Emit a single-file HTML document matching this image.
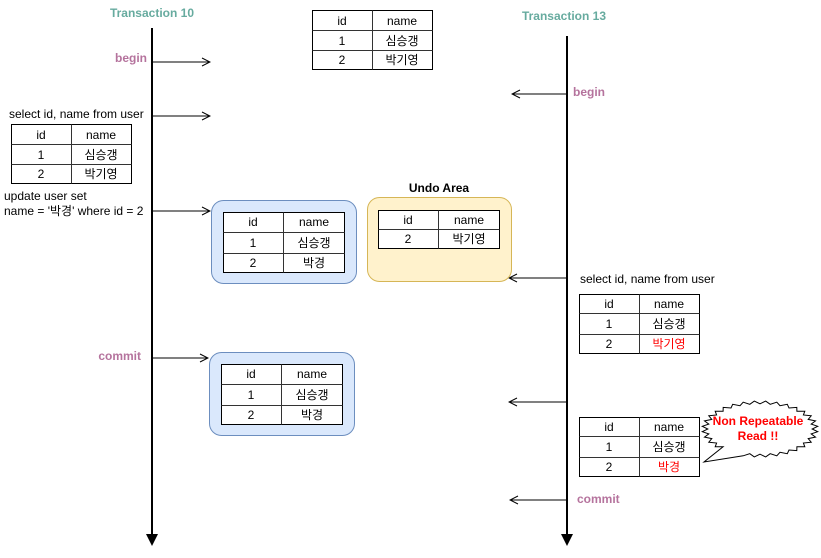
<!DOCTYPE html>
<html><head><meta charset="utf-8"><style>
html,body{margin:0;padding:0;background:#fff;}
svg{display:block;font-family:"Liberation Sans","Noto Sans CJK KR","NanumGothic",sans-serif;}
.t{font-size:12px;fill:#000;text-anchor:middle;}
.l{font-size:12px;fill:#000;}
.tb{fill:#fff;stroke:#000;stroke-width:1;}
.ln{stroke:#333;stroke-width:1;}
</style></head><body>
<svg width="821" height="558" viewBox="0 0 821 558" xmlns="http://www.w3.org/2000/svg">
<defs>
<marker id="oa" markerWidth="10" markerHeight="10" refX="9" refY="5" orient="auto" markerUnits="userSpaceOnUse">
<path d="M1,1 L9,5 L1,9" fill="none" stroke="#000" stroke-width="1"/>
</marker>
</defs>

<!-- titles -->
<text x="152" y="17" font-size="12" font-weight="bold" fill="#67AB9F" text-anchor="middle">Transaction 10</text>
<text x="564" y="20" font-size="12" font-weight="bold" fill="#67AB9F" text-anchor="middle">Transaction 13</text>

<!-- timelines -->
<line x1="152" y1="28" x2="152" y2="536" stroke="#000" stroke-width="2"/>
<path d="M146,534 L158,534 L152,546 Z" fill="#000"/>
<line x1="567" y1="36" x2="567" y2="536" stroke="#000" stroke-width="2"/>
<path d="M561,534 L573,534 L567,546 Z" fill="#000"/>

<!-- left arrows -->
<line x1="152" y1="62" x2="210" y2="62" stroke="#000" marker-end="url(#oa)"/>
<line x1="152" y1="116" x2="210" y2="116" stroke="#000" marker-end="url(#oa)"/>
<line x1="152" y1="211" x2="210" y2="211" stroke="#000" marker-end="url(#oa)"/>
<line x1="152" y1="358" x2="208" y2="358" stroke="#000" marker-end="url(#oa)"/>
<!-- right arrows -->
<line x1="567" y1="94" x2="512" y2="94" stroke="#000" marker-end="url(#oa)"/>
<line x1="567" y1="278" x2="509" y2="278" stroke="#000" marker-end="url(#oa)"/>
<line x1="567" y1="402" x2="509" y2="402" stroke="#000" marker-end="url(#oa)"/>
<line x1="567" y1="500" x2="510" y2="500" stroke="#000" marker-end="url(#oa)"/>

<!-- labels -->
<text x="147" y="62" font-size="12" font-weight="bold" fill="#B5739D" text-anchor="end">begin</text>
<text x="141" y="360" font-size="12" font-weight="bold" fill="#B5739D" text-anchor="end">commit</text>
<text x="573" y="96" font-size="12" font-weight="bold" fill="#B5739D">begin</text>
<text x="577" y="503" font-size="12" font-weight="bold" fill="#B5739D">commit</text>
<text x="9" y="118" class="l">select id, name from user</text>
<text x="4" y="200" class="l">update user set</text>
<text x="4" y="215" class="l">name = '박경' where id = 2</text>
<text x="580" y="283" class="l">select id, name from user</text>
<text x="439" y="192" font-size="12" font-weight="bold" text-anchor="middle">Undo Area</text>

<!-- top table -->
<g>
<rect class="tb" x="312.5" y="10.5" width="120" height="59"/>
<line class="ln" x1="372.5" y1="10.5" x2="372.5" y2="69.5"/>
<line class="ln" x1="312.5" y1="30.5" x2="432.5" y2="30.5"/>
<line class="ln" x1="312.5" y1="50.5" x2="432.5" y2="50.5"/>
<text class="t" x="342" y="25">id</text><text class="t" x="402" y="25">name</text>
<text class="t" x="342" y="45">1</text><text class="t" x="402" y="45">심승갱</text>
<text class="t" x="342" y="64">2</text><text class="t" x="402" y="64">박기영</text>
</g>

<!-- left table -->
<g>
<rect class="tb" x="11.5" y="124.5" width="120" height="59"/>
<line class="ln" x1="71.5" y1="124.5" x2="71.5" y2="183.5"/>
<line class="ln" x1="11.5" y1="144.5" x2="131.5" y2="144.5"/>
<line class="ln" x1="11.5" y1="164.5" x2="131.5" y2="164.5"/>
<text class="t" x="41" y="139">id</text><text class="t" x="101" y="139">name</text>
<text class="t" x="41" y="159">1</text><text class="t" x="101" y="159">심승갱</text>
<text class="t" x="41" y="178">2</text><text class="t" x="101" y="178">박기영</text>
</g>

<!-- blue box 1 -->
<rect x="211.5" y="200.5" width="145" height="83" rx="12" fill="#dae8fc" stroke="#6c8ebf"/>
<g>
<rect class="tb" x="223.5" y="212.5" width="121" height="60"/>
<line class="ln" x1="283.5" y1="212.5" x2="283.5" y2="272.5"/>
<line class="ln" x1="223.5" y1="232.5" x2="344.5" y2="232.5"/>
<line class="ln" x1="223.5" y1="253.5" x2="344.5" y2="253.5"/>
<text class="t" x="253" y="226">id</text><text class="t" x="314" y="226">name</text>
<text class="t" x="253" y="247">1</text><text class="t" x="314" y="247">심승갱</text>
<text class="t" x="253" y="267">2</text><text class="t" x="314" y="267">박경</text>
</g>

<!-- undo box -->
<rect x="367.5" y="197.5" width="144" height="84" rx="12" fill="#fff2cc" stroke="#d6b656"/>
<g>
<rect class="tb" x="378.5" y="210.5" width="121" height="38"/>
<line class="ln" x1="438.5" y1="210.5" x2="438.5" y2="248.5"/>
<line class="ln" x1="378.5" y1="229.5" x2="499.5" y2="229.5"/>
<text class="t" x="408" y="224">id</text><text class="t" x="469" y="224">name</text>
<text class="t" x="408" y="243">2</text><text class="t" x="469" y="243">박기영</text>
</g>

<!-- blue box 2 -->
<rect x="209.5" y="352.5" width="145" height="83" rx="12" fill="#dae8fc" stroke="#6c8ebf"/>
<g>
<rect class="tb" x="221.5" y="364.5" width="121" height="60"/>
<line class="ln" x1="281.5" y1="364.5" x2="281.5" y2="424.5"/>
<line class="ln" x1="221.5" y1="384.5" x2="342.5" y2="384.5"/>
<line class="ln" x1="221.5" y1="405.5" x2="342.5" y2="405.5"/>
<text class="t" x="251" y="378">id</text><text class="t" x="312" y="378">name</text>
<text class="t" x="251" y="399">1</text><text class="t" x="312" y="399">심승갱</text>
<text class="t" x="251" y="419">2</text><text class="t" x="312" y="419">박경</text>
</g>

<!-- right table 1 -->
<g>
<rect class="tb" x="579.5" y="294.5" width="120" height="59"/>
<line class="ln" x1="639.5" y1="294.5" x2="639.5" y2="353.5"/>
<line class="ln" x1="579.5" y1="313.5" x2="699.5" y2="313.5"/>
<line class="ln" x1="579.5" y1="334.5" x2="699.5" y2="334.5"/>
<text class="t" x="609" y="308">id</text><text class="t" x="669" y="308">name</text>
<text class="t" x="609" y="328">1</text><text class="t" x="669" y="328">심승갱</text>
<text class="t" x="609" y="348">2</text><text class="t" x="669" y="348" style="fill:#f00">박기영</text>
</g>

<!-- right table 2 -->
<g>
<rect class="tb" x="579.5" y="417.5" width="120" height="59"/>
<line class="ln" x1="639.5" y1="417.5" x2="639.5" y2="476.5"/>
<line class="ln" x1="579.5" y1="436.5" x2="699.5" y2="436.5"/>
<line class="ln" x1="579.5" y1="457.5" x2="699.5" y2="457.5"/>
<text class="t" x="609" y="431">id</text><text class="t" x="669" y="431">name</text>
<text class="t" x="609" y="451">1</text><text class="t" x="669" y="451">심승갱</text>
<text class="t" x="609" y="471">2</text><text class="t" x="669" y="471" style="fill:#f00">박경</text>
</g>

<!-- callout -->
<polygon id="burst" fill="#fff" stroke="#000" stroke-width="1" points=""/>
<text x="758" y="425" font-size="12" font-weight="bold" fill="#f00" text-anchor="middle">Non Repeatable</text>
<text x="758" y="440" font-size="12" font-weight="bold" fill="#f00" text-anchor="middle">Read !!</text>
</svg>
<script>
(function(){
var cx=760,cy=429,rx=58,ry=28,pts=[],n=64;
for(var i=0;i<n;i++){
  var a=i/n*2*Math.PI;
  var k=(i%2)?1:0.9;
  var px=cx+Math.cos(a)*rx*k, py=cy+Math.sin(a)*ry*k;
  // tail region (bottom-left)
  if(a>1.95&&a<2.35){
    if(!pts.tail){pts.push("704,462");pts.tail=1;}
    continue;
  }
  pts.push(px.toFixed(1)+","+py.toFixed(1));
}
document.getElementById("burst").setAttribute("points",pts.join(" "));
})();
</script>
</body></html>
